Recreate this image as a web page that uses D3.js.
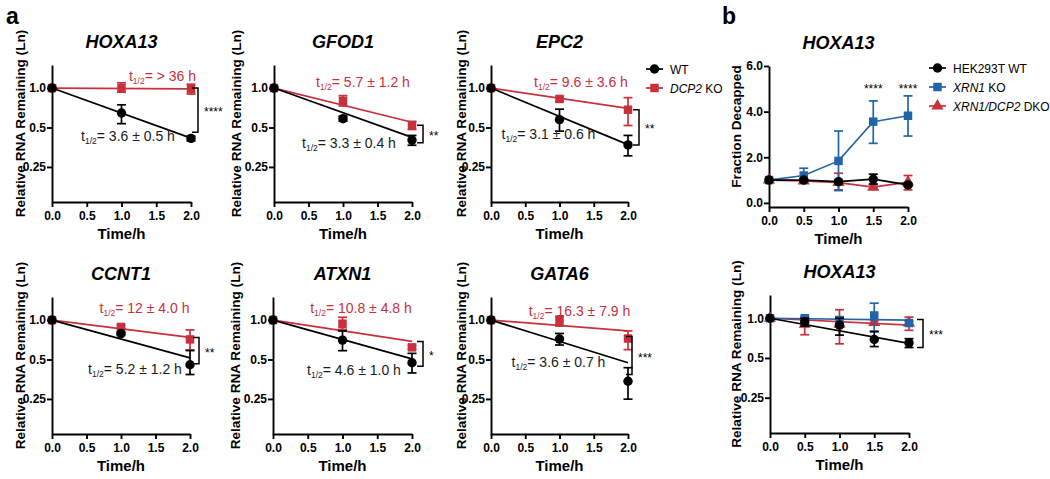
<!DOCTYPE html>
<html><head><meta charset="utf-8">
<script src="https://cdn.jsdelivr.net/npm/d3@7"></script>
<style>
body{margin:0;background:#fff}
svg{font-family:"Liberation Sans",Arial,Helvetica,sans-serif}
</style>
</head><body>
<svg id="c" width="1050" height="479"></svg>
<script>
// ---------------- DATA ----------------
const timesA = [0, 1, 2];
const genesA = ["HOXA13", "GFOD1", "EPC2", "CCNT1", "ATXN1", "GATA6"];
const wtMeanA = [[1,0.645,0.413],[1,0.584,0.401],[1,0.574,0.368],[1,0.789,0.456],[1,0.703,0.472],[1,0.716,0.341]];
const wtLoA   = [[1,0.535,0.396],[1,0.560,0.366],[1,0.469,0.304],[1,0.770,0.384],[1,0.584,0.395],[1,0.645,0.249]];
const wtHiA   = [[1,0.745,0.430],[1,0.610,0.435],[1,0.690,0.435],[1,0.810,0.585],[1,0.826,0.557],[1,0.790,0.433]];
const koMeanA = [[1,1.000,0.980],[1,0.798,0.520],[1,0.826,0.683],[1,0.886,0.712],[1,0.938,0.619],[1,0.983,0.723]];
const koLoA   = [[0.97,0.930,0.900],[1,0.730,0.483],[1,0.790,0.518],[1,0.860,0.592],[1,0.850,0.600],[1,0.900,0.595]];
const koHiA   = [[1.03,1.096,1.070],[1,0.875,0.557],[1,0.850,0.845],[1,0.910,0.841],[1,1.050,0.640],[1,1.070,0.826]];
const wtFitA  = [[1,0.415],[1,0.420],[1,0.370],[1,0.515],[1,0.506],[1,0.472]];
const koFitA  = [[1,0.985],[1,0.548],[1,0.700],[1,0.737],[1,0.687],[1,0.826]];
const halfWTA = ["3.6 ± 0.5 h","3.3 ± 0.4 h","3.1 ± 0.6 h","5.2 ± 1.2 h","4.6 ± 1.0 h","3.6 ± 0.7 h"];
const halfKOA = ["> 36 h","5.7 ± 1.2 h","9.6 ± 3.6 h","12 ± 4.0 h","10.8 ± 4.8 h","16.3 ± 7.9 h"];
const sigA    = ["****","**","**","**","*","***"];
const bracketA = [[1.0,0.459],[0.52,0.383],[0.683,0.368],[0.736,0.464],[0.687,0.445],[0.749,0.384]];
const legendA = ["WT", "DCP2 KO"];

const timesB = [0, 0.5, 1, 1.5, 2];
const bSeries = ["HEK293T WT", "XRN1 KO", "XRN1/DCP2 DKO"];
// b, top: Fraction decapped
const decWTMean = [1,1.00,0.93,1.04,0.79];
const decWTLo   = [1,0.95,0.85,0.83,0.72];
const decWTHi   = [1,1.05,1.00,1.26,0.86];
const decXMean  = [1,1.20,1.84,3.56,3.82];
const decXLo    = [1,0.93,0.54,2.61,2.93];
const decXHi    = [1,1.52,3.15,4.47,4.69];
const decDMean  = [1,0.96,0.89,0.69,0.91];
const decDLo    = [1,0.90,0.57,0.60,0.57];
const decDHi    = [1,1.02,1.30,0.80,1.20];
const decSig    = [[1.5,"****"],[2,"****"]];
const decTicks  = [0, 2, 4, 6];
// b, bottom: RNA remaining
const remWTMean = [1,0.94,0.886,0.69,0.65];
const remWTLo   = [1,0.87,0.745,0.61,0.60];
const remWTHi   = [1,1.00,1.000,0.79,0.70];
const remXMean  = [1,1.00,0.97,1.05,0.92];
const remXLo    = [1,0.97,0.92,0.80,0.89];
const remXHi    = [1,1.03,1.02,1.30,0.95];
const remDMean  = [1,0.90,0.90,0.93,0.92];
const remDLo    = [1,0.75,0.64,0.90,0.81];
const remDHi    = [1,1.00,1.16,0.96,1.02];
const remWTFit  = [1,0.645];
const remXFit   = [1,0.966];
const remDFit   = [1,0.886];
const remBracket = [0.98, 0.60];
const remSig = "***";

const xTicks = [0, 0.5, 1, 1.5, 2];
const yTicksLog = [0.25, 0.5, 1];

// ---------------- STYLE / LAYOUT ----------------
const RED = "#c8303c", BLUE = "#2363a8", BLACK = "#000";
const svg = d3.select("#c");

const layoutA = [
  {x0:52,  x2:191, yTop:65,  yBot:202, lab:27, rl:[110.5,-12], bl:[76,48],   bx:7},
  {x0:274, x2:412, yTop:65,  yBot:202, lab:33, rl:[89,-6],     bl:[75,55],   bx:11},
  {x0:491, x2:628, yTop:65,  yBot:202, lab:25, rl:[90,-6],     bl:[57.5,46], bx:11},
  {x0:52,  x2:190, yTop:297, yBot:434, lab:27, rl:[92.5,-12],  bl:[83,49],   bx:9},
  {x0:273, x2:412, yTop:297, yBot:434, lab:33, rl:[88,-12],    bl:[81,50],   bx:11},
  {x0:491, x2:628, yTop:297, yBot:434, lab:25, rl:[88.5,-9],   bl:[67.5,42], bx:4}
];
const layoutBTop = {x0:769, x2:908, yTop:66,  yBot:207, lab:28};
const layoutBBot = {x0:770, x2:909, yTop:295, yBot:433, lab:29};

function styleAxis(g){
  g.selectAll("path,line").attr("stroke","#000").attr("stroke-width",1.9);
  g.selectAll("text").attr("font-size",12).attr("font-weight","bold")
   .attr("font-family",'"Liberation Sans",Arial,sans-serif').attr("fill","#000");
}

function frame(o, ys, yTicks, yFmt, title, ylabel){
  const xs = d3.scaleLinear().domain([0,2]).range([o.x0,o.x2]);
  const gx = svg.append("g").attr("transform",`translate(0,${o.yBot})`)
    .call(d3.axisBottom(xs).tickValues(xTicks).tickFormat(d3.format(".1f")).tickSize(5).tickSizeOuter(0).tickPadding(4));
  styleAxis(gx);
  const gy = svg.append("g").attr("transform",`translate(${o.x0},0)`)
    .call(d3.axisLeft(ys).tickValues(yTicks).tickFormat(yFmt).tickSize(5).tickSizeOuter(0).tickPadding(1));
  styleAxis(gy);
  const cx = (o.x0+o.x2)/2;
  svg.append("text").attr("x",cx).attr("y",o.yTop-17).attr("text-anchor","middle")
    .attr("font-size",18).attr("font-weight","bold").attr("font-style","italic").text(title);
  svg.append("text").attr("x",cx).attr("y",o.yBot+37).attr("text-anchor","middle")
    .attr("font-size",15).attr("font-weight","bold").text("Time/h");
  const yc = (o.yTop+o.yBot)/2 - 10;
  svg.append("text").attr("transform",`translate(${o.x0-o.lab},${yc}) rotate(-90)`)
    .attr("text-anchor","middle").attr("font-size",13.6).attr("font-weight","bold").text(ylabel);
  return xs;
}

function symbolFor(shape){
  if (shape==="circle") return d3.symbol().type(d3.symbolCircle).size(70)();
  if (shape==="square") return d3.symbol().type(d3.symbolSquare).size(72)();
  return d3.symbol().type(d3.symbolTriangle).size(64)();
}

function series(xs, ys, times, mean, lo, hi, color, shape, fit){
  const g = svg.append("g");
  times.forEach((t,i)=>{
    if (Math.abs(hi[i]-lo[i]) < 1e-6) return;
    const x = xs(t);
    g.append("line").attr("x1",x).attr("x2",x).attr("y1",ys(lo[i])).attr("y2",ys(hi[i]))
      .attr("stroke",color).attr("stroke-width",1.7);
    [lo[i],hi[i]].forEach(v=>{
      g.append("line").attr("x1",x-4.5).attr("x2",x+4.5).attr("y1",ys(v)).attr("y2",ys(v))
        .attr("stroke",color).attr("stroke-width",1.7);
    });
  });
  const line = d3.line().x(d=>xs(d[0])).y(d=>ys(d[1]));
  const pts = fit ? [[times[0],fit[0]],[times[times.length-1],fit[1]]] : times.map((t,i)=>[t,mean[i]]);
  g.append("path").attr("d",line(pts)).attr("fill","none").attr("stroke",color).attr("stroke-width",1.7);
  const sym = symbolFor(shape);
  times.forEach((t,i)=>{
    g.append("path").attr("d",sym).attr("transform",`translate(${xs(t)},${ys(mean[i])})`).attr("fill",color);
  });
}

function halfLabel(x, y, txt, color){
  const t = svg.append("text").attr("x",x).attr("y",y+5).attr("text-anchor","middle")
    .attr("font-size",14).attr("fill",color);
  t.append("tspan").text("t");
  t.append("tspan").attr("font-size",8.5).attr("dy",3).text("1/2");
  t.append("tspan").attr("dy",-3).text("= " + txt);
}

function bracket(x, yA, yB, star){
  svg.append("path").attr("d",`M${x-6},${yA}H${x}V${yB}H${x-6}`)
    .attr("fill","none").attr("stroke","#000").attr("stroke-width",1.5);
  svg.append("text").attr("x",x+6).attr("y",(yA+yB)/2+6).attr("font-size",12).text(star);
}

const fmtLog = d=> d===0.25 ? "0.25" : d3.format(".1f")(d);

// ---------------- PANEL a ----------------
genesA.forEach((gene,k)=>{
  const o = layoutA[k];
  const ys = d3.scaleLog().domain([0.135,1.5]).range([o.yBot,o.yTop]);
  const xs = frame(o, ys, yTicksLog, fmtLog, gene, "Relative RNA Remaining (Ln)");
  series(xs, ys, timesA, koMeanA[k], koLoA[k], koHiA[k], RED, "square", koFitA[k]);
  series(xs, ys, timesA, wtMeanA[k], wtLoA[k], wtHiA[k], BLACK, "circle", wtFitA[k]);
  const y1 = ys(1);
  halfLabel(o.x0+o.rl[0], y1+o.rl[1], halfKOA[k], RED);
  halfLabel(o.x0+o.bl[0], y1+o.bl[1], halfWTA[k], "#1a1a1a");
  bracket(o.x2+o.bx, ys(bracketA[k][0]), ys(bracketA[k][1]), sigA[k]);
});

// legend a
legendA.forEach((name,i)=>{
  const y = 69 + i*19;
  const c = i===0 ? BLACK : RED;
  svg.append("line").attr("x1",646).attr("x2",663).attr("y1",y).attr("y2",y).attr("stroke",c).attr("stroke-width",1.7);
  svg.append("path").attr("d",symbolFor(i===0?"circle":"square")).attr("transform",`translate(654.5,${y})`).attr("fill",c);
  const t = svg.append("text").attr("x",670).attr("y",y+4.5).attr("font-size",12);
  if (i===0) t.text(name);
  else { t.append("tspan").attr("font-style","italic").text("DCP2"); t.append("tspan").text(" KO"); }
});

// ---------------- PANEL b ----------------
{
  const o = layoutBTop;
  const ys = d3.scaleLinear().domain([-0.18,6]).range([o.yBot,o.yTop]);
  const xs = frame(o, ys, decTicks, d3.format(".1f"), "HOXA13", "Fraction Decapped");
  series(xs, ys, timesB, decDMean, decDLo, decDHi, RED, "triangle", null);
  series(xs, ys, timesB, decXMean, decXLo, decXHi, BLUE, "square", null);
  series(xs, ys, timesB, decWTMean, decWTLo, decWTHi, BLACK, "circle", null);
  decSig.forEach(([t,s])=>{
    svg.append("text").attr("x",xs(t)).attr("y",ys(5.0)+4).attr("text-anchor","middle").attr("font-size",12).text(s);
  });
}
{
  const o = layoutBBot;
  const ys = d3.scaleLog().domain([0.135,1.5]).range([o.yBot,o.yTop]);
  const xs = frame(o, ys, yTicksLog, fmtLog, "HOXA13", "Relative RNA Remaining (Ln)");
  series(xs, ys, timesB, remDMean, remDLo, remDHi, RED, "triangle", remDFit);
  series(xs, ys, timesB, remXMean, remXLo, remXHi, BLUE, "square", remXFit);
  series(xs, ys, timesB, remWTMean, remWTLo, remWTHi, BLACK, "circle", remWTFit);
  bracket(o.x2+14, ys(remBracket[0]), ys(remBracket[1]), remSig);
}

// legend b
bSeries.forEach((name,i)=>{
  const y = 68 + i*19;
  const c = [BLACK,BLUE,RED][i];
  svg.append("line").attr("x1",929).attr("x2",946).attr("y1",y).attr("y2",y).attr("stroke",c).attr("stroke-width",1.7);
  svg.append("path").attr("d",symbolFor(["circle","square","triangle"][i])).attr("transform",`translate(937.5,${y})`).attr("fill",c);
  const t = svg.append("text").attr("x",953).attr("y",y+4.5).attr("font-size",12);
  if (i===0) t.text(name);
  else if (i===1) { t.append("tspan").attr("font-style","italic").text("XRN1"); t.append("tspan").text(" KO"); }
  else { t.append("tspan").attr("font-style","italic").text("XRN1/DCP2"); t.append("tspan").text(" DKO"); }
});

// panel letters
svg.append("text").attr("x",6).attr("y",24).attr("font-size",23).attr("font-weight","bold").text("a");
svg.append("text").attr("x",722).attr("y",24).attr("font-size",23).attr("font-weight","bold").text("b");
</script>
</body></html>
